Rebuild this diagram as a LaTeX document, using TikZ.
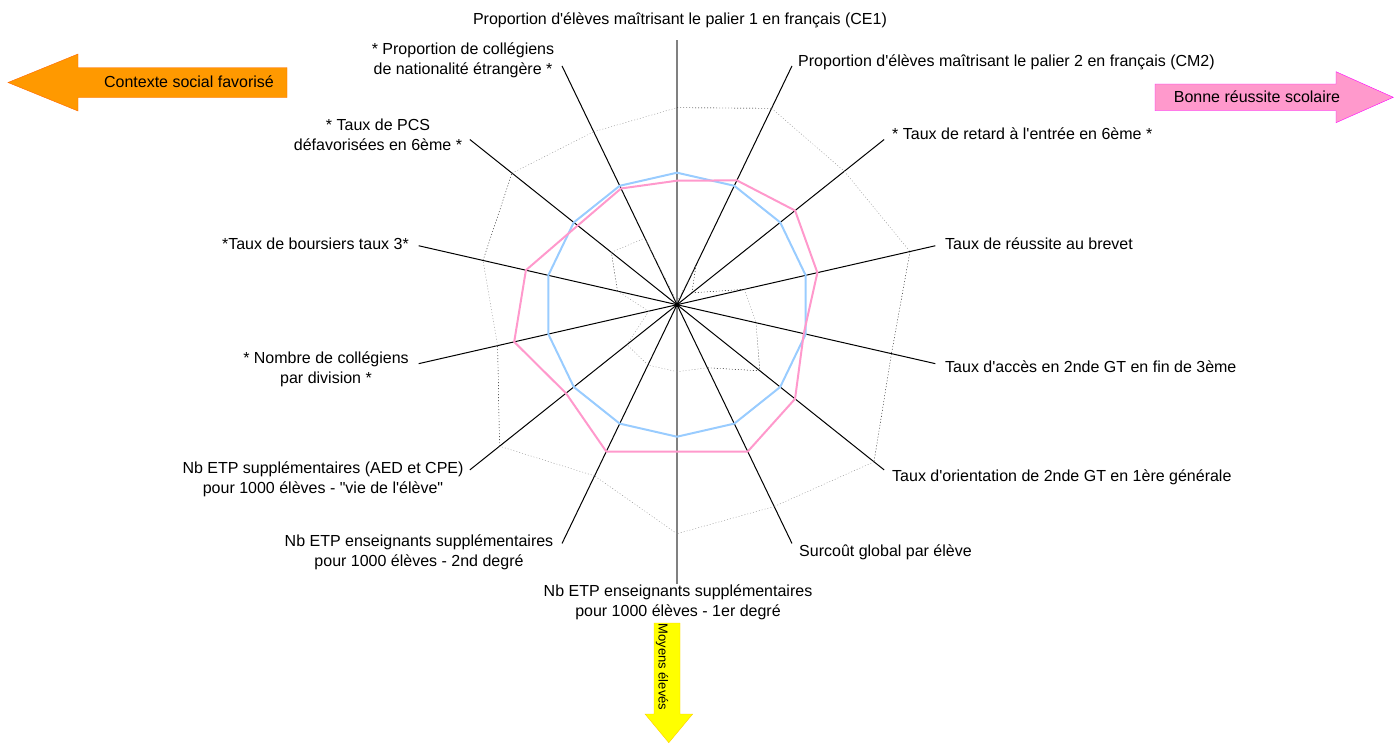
\documentclass[tikz,border=0pt]{standalone}
\usepackage{fontspec}
\setmainfont{Liberation Sans}[Ligatures=TeXOff]
\usetikzlibrary{calc}

\begin{document}
\begin{tikzpicture}[x=1pt,y=1pt,yscale=-1,xscale=1,
    every node/.style={inner sep=0pt,font=\fontsize{16}{20}\selectfont},
    spoke/.style={line width=1},
    mainspoke/.style={color={rgb, 255:red, 128; green, 128; blue, 128},line width=2},
    dotblack/.style={dash pattern=on 1pt off 2pt},
    dotgray/.style={dash pattern=on 1pt off 2pt,color={rgb, 255:red, 140; green, 140; blue, 140}},
    serieA/.style={color={rgb, 255:red, 153; green, 204; blue, 255},line width=2,line join=round},
    serieB/.style={color={rgb, 255:red, 255; green, 153; blue, 204},line width=2,line join=round}]
\useasboundingbox (0,0) rectangle (1395,744);

% centre of the radar
\coordinate (c) at (677,304.7);

% spokes
\foreach \k in {1,...,6,8,9,...,13} {
  \coordinate (e\k) at ($(c)+(\k*360/14-90:265)$);
  \draw[spoke] (c) -- (e\k);
}
\coordinate (e0) at (677,40);
\coordinate (e7) at (677,584);
\draw[mainspoke] (e0) -- (e7);

% outer dotted series
\foreach \k/\ra/\rb/\cl in {0/197/218/dotblack,1/218/214/dotgray,2/214/239/dotgray,3/239/220/dotblack,
    4/220/252/dotblack,5/252/224/dotgray,6/224/229/dotgray,7/229/190/dotgray,8/190/227/dotgray,
    9/227/184/dotblack,10/184/199/dotgray,11/199/211/dotblack,12/211/192/dotgray,13/192/197/dotgray}
  \draw[\cl] ($(c)+(\k*360/14-90:\ra)$) -- ($(c)+(\k*360/14+360/14-90:\rb)$);

% inner dotted series
\foreach \k/\ra/\rb/\cl in {0/3/44/dotgray,1/44/19/dotblack,2/19/69/dotblack,3/69/81/dotgray,
    4/81/106/dotblack,5/106/70/dotblack,6/70/67/dotgray,7/67/67/dotgray,8/67/64/dotgray,
    9/64/29/dotgray,10/29/61/dotgray,11/61/84/dotblack,12/84/74/dotgray,13/74/3/dotgray}
  \draw[\cl] ($(c)+(\k*360/14-90:\ra)$) -- ($(c)+(\k*360/14+360/14-90:\rb)$);

% blue series
\draw[serieA] ($(c)+(-90:132)$) \foreach \k in {1,...,13} { -- ($(c)+(\k*360/14-90:132)$) } -- cycle;
% pink series
\draw[serieB] ($(c)+(-90:124)$) \foreach \r [count=\k] in {138,151,144,130,151,163,147,163,142,167,155,127,129}
  { -- ($(c)+(\k*360/14-90:\r)$) } -- cycle;

\fill (c) circle [radius=2.5];

% Text Node
\node (lab0) at (680,20) {Proportion d'élèves maîtrisant le palier 1 en français (CE1)};
\node[anchor=west] (lab1) at (798,62) {Proportion d'élèves maîtrisant le palier 2 en français (CM2)};
\node[anchor=west] (lab2) at (892,134) {* Taux de retard à l'entrée en 6ème *};
\node[anchor=west] (lab3) at (945,244) {Taux de réussite au brevet};
\node[anchor=west] (lab4) at (945,367) {Taux d'accès en 2nde GT en fin de 3ème};
\node[anchor=west] (lab5) at (892,477) {Taux d'orientation de 2nde GT en 1ère générale};
\node[anchor=west] (lab6) at (799,552) {Surcoût global par élève};
\node[align=center] (lab7) at (678,602) {Nb ETP enseignants supplémentaires\\pour 1000 élèves - 1er degré};
\node[align=center] (lab8) at (419,552) {Nb ETP enseignants supplémentaires\\pour 1000 élèves - 2nd degré};
\node[align=center] (lab9) at (323,479) {Nb ETP supplémentaires (AED et CPE)\\pour 1000 élèves - "vie de l'élève"};
\node[align=center] (lab10) at (326,369) {* Nombre de collégiens\\par division *};
\node[anchor=east] (lab11) at (409,244) {*Taux de boursiers taux 3*};
\node[align=center] (lab12) at (378,135) {* Taux de PCS\\défavorisées en 6ème *};
\node[align=center] (lab13) at (463,60) {* Proportion de collégiens\\de nationalité étrangère *};

% orange arrow
\draw[color={rgb, 255:red, 255; green, 102; blue, 0},fill={rgb, 255:red, 255; green, 153; blue, 0}]
  (8,82.5) -- (78,54) -- (78,67.5) -- (287,67.5) -- (287,97.5) -- (78,97.5) -- (78,111) -- cycle;
\node (ctx) at (189,81.5) {Contexte social favorisé};

% pink arrow
\draw[color={rgb, 255:red, 255; green, 0; blue, 255},fill={rgb, 255:red, 255; green, 153; blue, 204}]
  (1155,84) -- (1336,84) -- (1336,71.7) -- (1393.3,97.3) -- (1336,122.7) -- (1336,110.7) -- (1155,110.7) -- cycle;
\node (reus) at (1257,97) {Bonne réussite scolaire};

% yellow arrow
\draw[color={rgb, 255:red, 255; green, 204; blue, 0},fill={rgb, 255:red, 255; green, 255; blue, 0}]
  (654,623) -- (680,623) -- (680,714) -- (692.7,714) -- (668.8,742.7) -- (645,714) -- (654,714) -- cycle;
\node[rotate=-90,font=\fontsize{13}{16}\selectfont] (moy) at (662,667) {Moyens élevés};

\end{tikzpicture}
\end{document}
